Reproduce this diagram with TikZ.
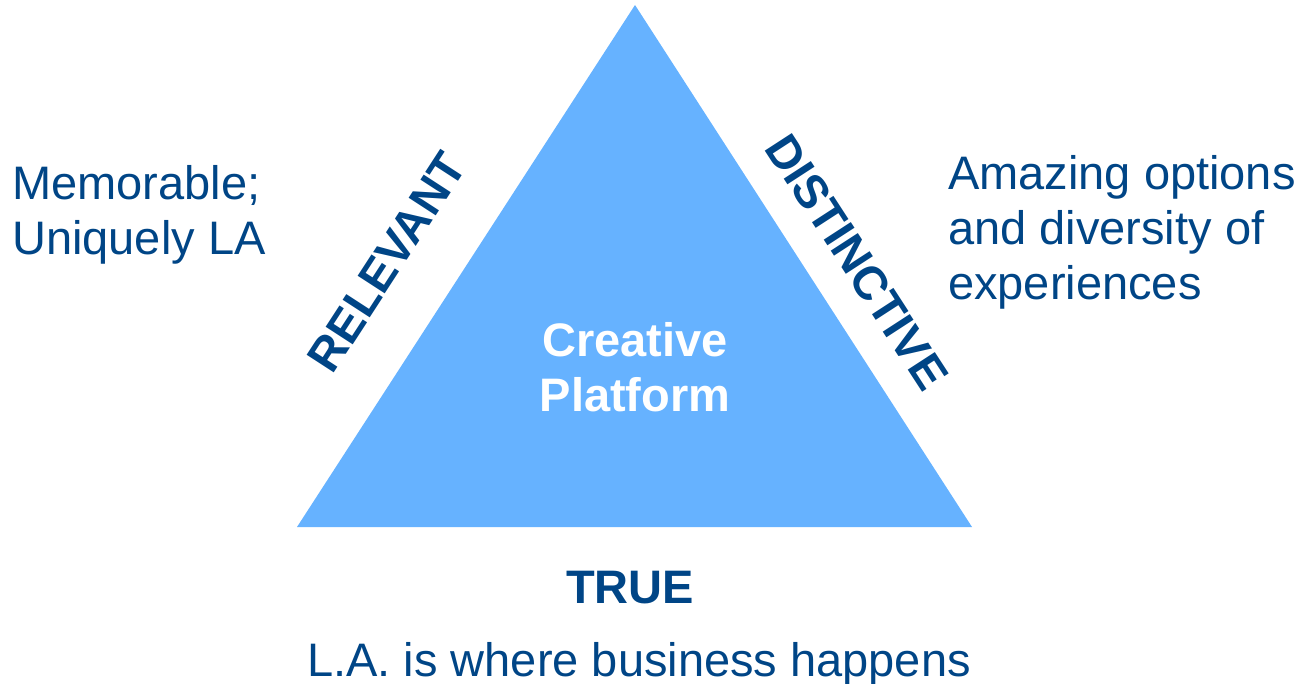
\documentclass[tikz,border=0pt]{standalone}
\usepackage{fontspec}
\setmainfont{Liberation Sans}
\definecolor{triblue}{HTML}{66B2FF}
\definecolor{inkblue}{HTML}{004586}
\begin{document}
\begin{tikzpicture}[x=1pt,y=-1pt,
  lbl/.style={inner sep=0pt,text=inkblue,font=\fontsize{47}{55}\selectfont},
  bold/.style={lbl,font=\fontsize{47}{55}\selectfont\bfseries}]
\useasboundingbox (0,0) rectangle (1300,684);
% platform triangle
\coordinate (apex) at (635,5);
\coordinate (bl) at (297,527);
\coordinate (br) at (972,527);
\fill[triblue] (apex) -- (br) -- (bl) -- cycle;
% multi-line nodes: base anchor sits on the last line
\node[bold,text=white,align=center,anchor=base] (core) at (635,411) {Creative\\Platform};
% side labels
\node[bold,rotate=57] (relevant) at (387,262) {RELEVANT};
\node[bold,rotate=-57] (distinctive) at (857,262) {DISTINCTIVE};
\node[bold,anchor=base] (true) at (630,603) {TRUE};
% descriptions
\node[lbl,align=left,anchor=base west] (memo) at (12,255) {Memorable;\\Uniquely LA};
\node[lbl,align=left,anchor=base west] (amaze) at (948,300) {Amazing options\\and diversity of\\experiences};
\node[lbl,anchor=base west] (business) at (307,676) {L.A. is where business happens};
\end{tikzpicture}
\end{document}
